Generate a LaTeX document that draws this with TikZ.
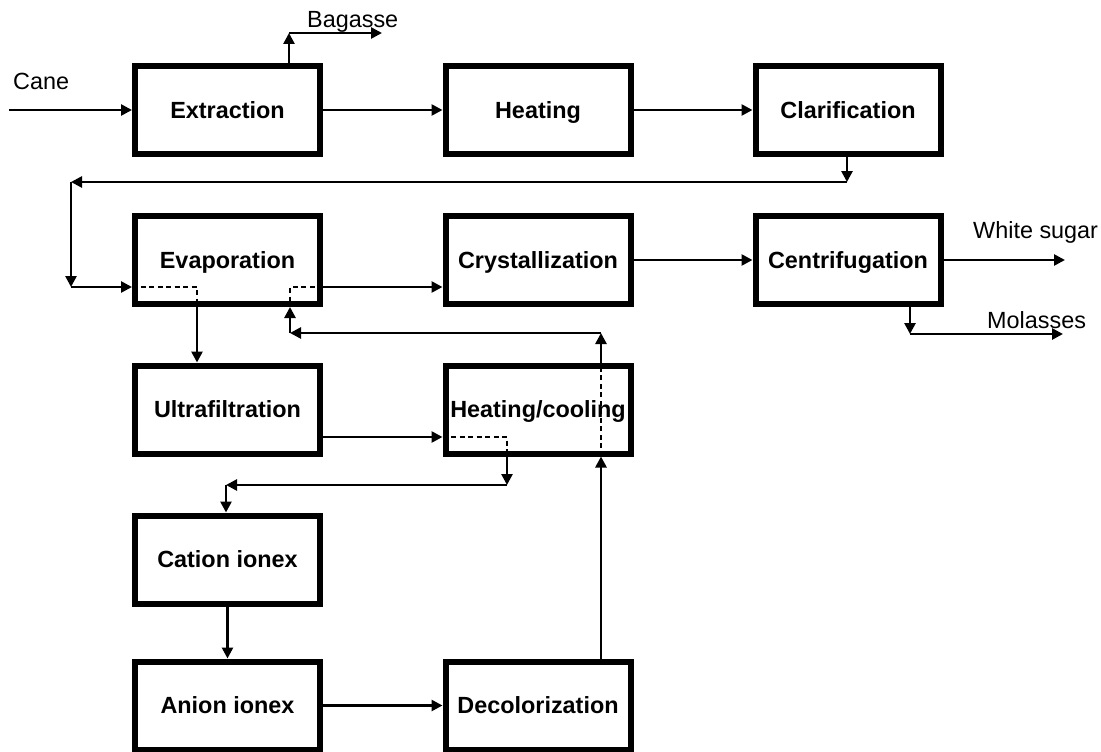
\documentclass[tikz,border=0pt]{standalone}
\usepackage{fontspec}
\setmainfont{Liberation Sans}
\usetikzlibrary{arrows.meta}
\begin{document}
\begin{tikzpicture}[x=1pt,y=-1pt,
  box/.style={draw, line width=6pt, minimum width=185pt, minimum height=88pt, inner sep=0pt, text height=16.8pt, text depth=0pt, font=\fontsize{23.4}{28}\selectfont\bfseries},
  flow/.style={line width=2.6pt, -{Triangle[length=11pt,width=11pt]}},
  dash line/.style={line width=1.4pt, dash pattern=on 5pt off 3.5pt},
  lbl/.style={font=\fontsize{23.4}{28}\selectfont, inner sep=0pt, anchor=base west}]
\useasboundingbox (0,0) rectangle (1101,752);

\node[box] (ext)   at (227.5,110)   {Extraction};
\node[box] (heat)  at (538,110)     {Heating};
\node[box] (clar)  at (848,110)     {Clarification};
\node[box] (evap)  at (227.5,260)   {Evaporation};
\node[box] (cryst) at (538,260)     {Crystallization};
\node[box] (cent)  at (848,260)     {Centrifugation};
\node[box] (uf)    at (227.5,409.5) {Ultrafiltration};
\node[box] (hc)    at (538,409.5)   {Heating/cooling};
\node[box] (cat)   at (227.5,559.5) {Cation ionex};
\node[box] (an)    at (227.5,705.5) {Anion ionex};
\node[box] (dec)   at (538,705.5)   {Decolorization};

\node[lbl] (cane) at (13,89)   {Cane};
\node[lbl] (bag)  at (307,28)  {Bagasse};
\node[lbl] (ws)   at (973,238) {White sugar};
\node[lbl] (mol)  at (987,328) {Molasses};

\coordinate (canein) at (9,110);
\coordinate (bagc) at (289,33);
\coordinate (bage) at (382,33);
\coordinate (c1) at (847,182);
\coordinate (c2) at (71,182);
\coordinate (c3) at (71,287);
\coordinate (e1) at (197,287);
\coordinate (e2) at (290,287);
\coordinate (r1) at (601,333);
\coordinate (r2) at (290,333);
\coordinate (wsend) at (1065,260);
\coordinate (m1) at (910,334);
\coordinate (m2) at (1063,334);
\coordinate (h1) at (507,437);
\coordinate (h2) at (507,485);
\coordinate (h3) at (226,485);

\draw[flow] (canein) -- (ext.west);
\draw[flow] (ext.north -| bagc) -- (bagc);
\draw[flow] (bagc) -- (bage);
\draw[flow] (ext.east) -- (heat.west);
\draw[flow] (heat.east) -- (clar.west);
\draw[flow] (clar.south -| c1) -- (c1);
\draw[flow] (c1) -- (c2);
\draw[flow] (c2) -- (c3);
\draw[flow] (c3) -- (evap.west |- c3);
\draw[dash line] (evap.west |- e1) -- (e1) -- (e1 |- evap.south);
\draw[flow] (e1 |- evap.south) -- (e1 |- uf.north);
\draw[flow] (evap.east |- e2) -- (cryst.west |- e2);
\draw[dash line] (evap.east |- e2) -- (e2) -- (e2 |- evap.south);
\draw[flow] (cryst.east) -- (cent.west);
\draw[flow] (cent.east) -- (wsend);
\draw[flow] (cent.south -| m1) -- (m1);
\draw[flow] (m1) -- (m2);
\draw[flow] (uf.east |- h1) -- (hc.west |- h1);
\draw[dash line] (hc.west |- h1) -- (h1) -- (h1 |- hc.south);
\draw[flow] (h1 |- hc.south) -- (h2);
\draw[flow] (h2) -- (h3);
\draw[flow] (h3) -- (cat.north -| h3);
\draw[flow] (cat.south) -- (an.north);
\draw[flow] (an.east) -- (dec.west);
\draw[flow] (dec.north -| r1) -- (r1 |- hc.south);
\draw[dash line] (r1 |- hc.south) -- (r1 |- hc.north);
\draw[flow] (r1 |- hc.north) -- (r1);
\draw[flow] (r1) -- (r2);
\draw[flow] (r2) -- (r2 |- evap.south);
\end{tikzpicture}
\end{document}
